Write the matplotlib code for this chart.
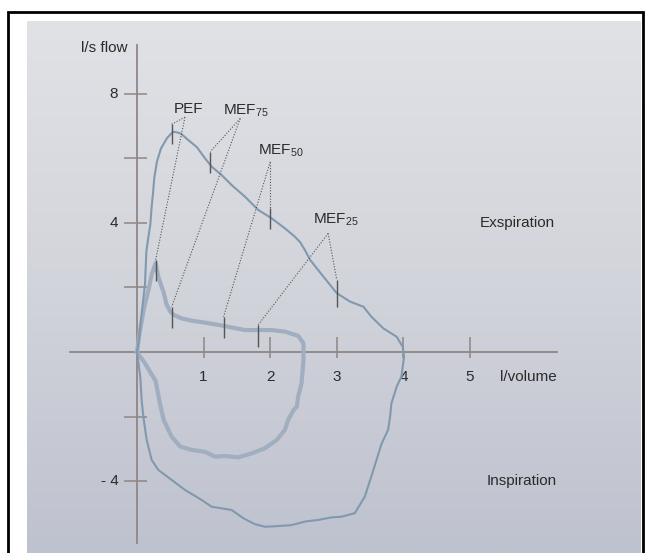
import numpy as np
import matplotlib
matplotlib.use("Agg")
import matplotlib.pyplot as plt
from matplotlib.colors import LinearSegmentedColormap
from matplotlib.patches import Rectangle

plt.rcParams['font.family'] = ['Liberation Sans Narrow', 'Liberation Sans', 'DejaVu Sans']
plt.rcParams['mathtext.fontset'] = 'custom'
plt.rcParams['mathtext.rm'] = 'Liberation Sans'

# ---- data ----
outer_x = [0.00, 0.03, 0.06, 0.09, 0.12, 0.13, 0.14, 0.17, 0.20, 0.22, 0.24, 0.26, 0.30, 0.36, 0.45,
           0.54, 0.60, 0.66, 0.77, 0.90, 1.02, 1.12, 1.27, 1.42, 1.62, 1.82, 2.02, 2.22, 2.37, 2.45,
           2.52, 2.60, 2.80, 3.00, 3.20, 3.40, 3.52, 3.70, 3.90, 3.99, 4.01, 3.97, 3.90, 3.82, 3.80,
           3.77, 3.67, 3.55, 3.42, 3.27, 3.07, 2.92, 2.72, 2.52, 2.32, 2.12, 1.92, 1.77, 1.60, 1.42,
           1.12, 0.97, 0.72, 0.52, 0.32, 0.22, 0.145, 0.095, 0.07, 0.05, 0.02, 0.00]
outer_y = [0.00, 0.40, 1.00, 1.55, 2.10, 2.60, 3.10, 3.55, 3.95, 4.50, 4.90, 5.40, 5.90, 6.30, 6.62,
           6.82, 6.80, 6.76, 6.56, 6.34, 6.00, 5.74, 5.48, 5.17, 4.81, 4.40, 4.14, 3.83, 3.57, 3.40,
           3.16, 2.85, 2.33, 1.82, 1.56, 1.40, 1.09, 0.73, 0.47, 0.16, -0.15, -0.76, -1.07, -1.59, -2.00,
           -2.41, -2.85, -3.65, -4.48, -4.99, -5.10, -5.12, -5.20, -5.25, -5.36, -5.39, -5.41, -5.33, -5.15, -4.89,
           -4.79, -4.58, -4.27, -3.96, -3.65, -3.34, -2.72, -2.00, -1.49, -0.80, -0.30, 0.00]

inner_x = [0.00, 0.04, 0.10, 0.17, 0.22, 0.28, 0.32, 0.37, 0.40, 0.445, 0.50, 0.55, 0.67, 0.82, 1.02,
           1.22, 1.42, 1.62, 1.82, 2.02, 2.22, 2.42, 2.50, 2.50, 2.47, 2.42, 2.40, 2.35, 2.27, 2.22,
           2.10, 1.92, 1.72, 1.52, 1.32, 1.17, 1.02, 0.82, 0.65, 0.52, 0.40, 0.345, 0.28, 0.12, 0.00]
inner_y = [0.00, 0.60, 1.30, 1.90, 2.40, 2.75, 2.33, 2.02, 1.85, 1.46, 1.25, 1.15, 1.04, 0.97, 0.91,
           0.84, 0.76, 0.68, 0.68, 0.68, 0.63, 0.50, 0.27, -0.25, -0.97, -1.38, -1.69, -1.80, -2.10, -2.41,
           -2.72, -2.98, -3.14, -3.26, -3.22, -3.24, -3.09, -3.03, -2.93, -2.62, -2.10, -1.60, -0.90, -0.35, 0.00]

marker_labels = ['PEF', r'MEF$_{\mathregular{75}}$', r'MEF$_{\mathregular{50}}$', r'MEF$_{\mathregular{25}}$']
label_x = [0.55, 1.29, 1.82, 2.65]
label_y = [7.52, 7.48, 6.23, 4.11]
anchor_x = [0.72, 1.55, 2.00, 2.87]
anchor_y = [7.27, 7.23, 5.89, 3.67]
outer_tick_x = [0.52, 1.10, 2.00, 3.00]
outer_tick_lo = [6.45, 5.55, 3.80, 1.40]
outer_tick_hi = [7.05, 6.20, 4.45, 2.23]
inner_tick_x = [0.28, 0.52, 1.30, 1.82]
inner_tick_lo = [2.20, 0.73, 0.42, 0.16]
inner_tick_hi = [2.85, 1.40, 1.09, 0.84]

x_ticks = [1, 2, 3, 4, 5]
x_tick_labels = ['1', '2', '3', '4', '5']
y_ticks = [-4, -2, 2, 4, 6, 8]
y_tick_labels = {8: '8', 4: '4', -4: '- 4'}

# ---- figure ----
fig = plt.figure(figsize=(6.51, 5.53), dpi=100)
fig.patch.set_facecolor('white')
ax = fig.add_axes([27/651, 0, 614/651, 532/553])
xmin, xmax = (27-137)/66.6, (641-137)/66.6
ymin, ymax = (352-553)/32.3, (352-21)/32.3
ax.set_xlim(xmin, xmax)
ax.set_ylim(ymin, ymax)

cmap = LinearSegmentedColormap.from_list('bg', ['#bec2ce', '#d2d4db', '#e1e2e6'])
grad = np.linspace(0, 1, 256).reshape(-1, 1)
ax.imshow(grad, cmap=cmap, origin='lower', extent=(xmin, xmax, ymin, ymax), aspect='auto', zorder=0)

for s in ax.spines.values():
    s.set_visible(False)
ax.set_xticks([])
ax.set_yticks([])

axis_col = '#8f8686'
ax.plot([-1.0, 6.3], [0, 0], color=axis_col, lw=1.3, zorder=2)
ax.plot([0, 0], [-5.9, 9.5], color=axis_col, lw=1.3, zorder=2)
ax.vlines(x_ticks, -0.2, 0.45, color=axis_col, lw=1.1, zorder=2)
ax.hlines(y_ticks, -0.19, 0.15, color=axis_col, lw=1.1, zorder=2)

txt = '#2b2b2b'
fs = 11
for xv, lab in zip(x_ticks, x_tick_labels):
    ax.text(xv, -0.77, lab, ha='center', va='center', fontsize=fs, color=txt)
for yv, lab in y_tick_labels.items():
    ax.text(-0.28, yv, lab, ha='right', va='center', fontsize=fs, color=txt)
ax.text(-0.15, 9.42, 'l/s flow', ha='right', va='center', fontsize=fs, color=txt)
ax.text(5.45, -0.77, 'l/volume', ha='left', va='center', fontsize=fs, color=txt)
ax.text(6.28, 4.0, 'Exspiration', ha='right', va='center', fontsize=fs, color=txt)
ax.text(6.30, -4.0, 'Inspiration', ha='right', va='center', fontsize=fs, color=txt)

# loops
ax.plot(inner_x, inner_y, color='#a0aec0', lw=3.0, solid_joinstyle='round', zorder=3)
ax.plot(outer_x, outer_y, color='#8198ae', lw=1.5, solid_joinstyle='round', zorder=4)

# markers and leaders
mk = '#555555'
ax.vlines(outer_tick_x, outer_tick_lo, outer_tick_hi, color=mk, lw=1.0, zorder=5)
ax.vlines(inner_tick_x, inner_tick_lo, inner_tick_hi, color=mk, lw=1.0, zorder=5)
for i in range(len(marker_labels)):
    ax.plot([anchor_x[i], outer_tick_x[i]], [anchor_y[i], outer_tick_hi[i]], color=mk, lw=0.8,
            linestyle=(0, (1, 1.5)), zorder=5)
    ax.plot([anchor_x[i], inner_tick_x[i]], [anchor_y[i], inner_tick_hi[i]], color=mk, lw=0.8,
            linestyle=(0, (1, 1.5)), zorder=5)
    ax.text(label_x[i], label_y[i], marker_labels[i], ha='left', va='center', fontsize=fs, color=txt, zorder=6)

fig.patches.append(Rectangle((8/651, -0.02), 635/651, (553-12)/553 + 0.02, transform=fig.transFigure,
                             fill=False, lw=2, ec='black', zorder=10))

fig.savefig('out.png', dpi=100)
